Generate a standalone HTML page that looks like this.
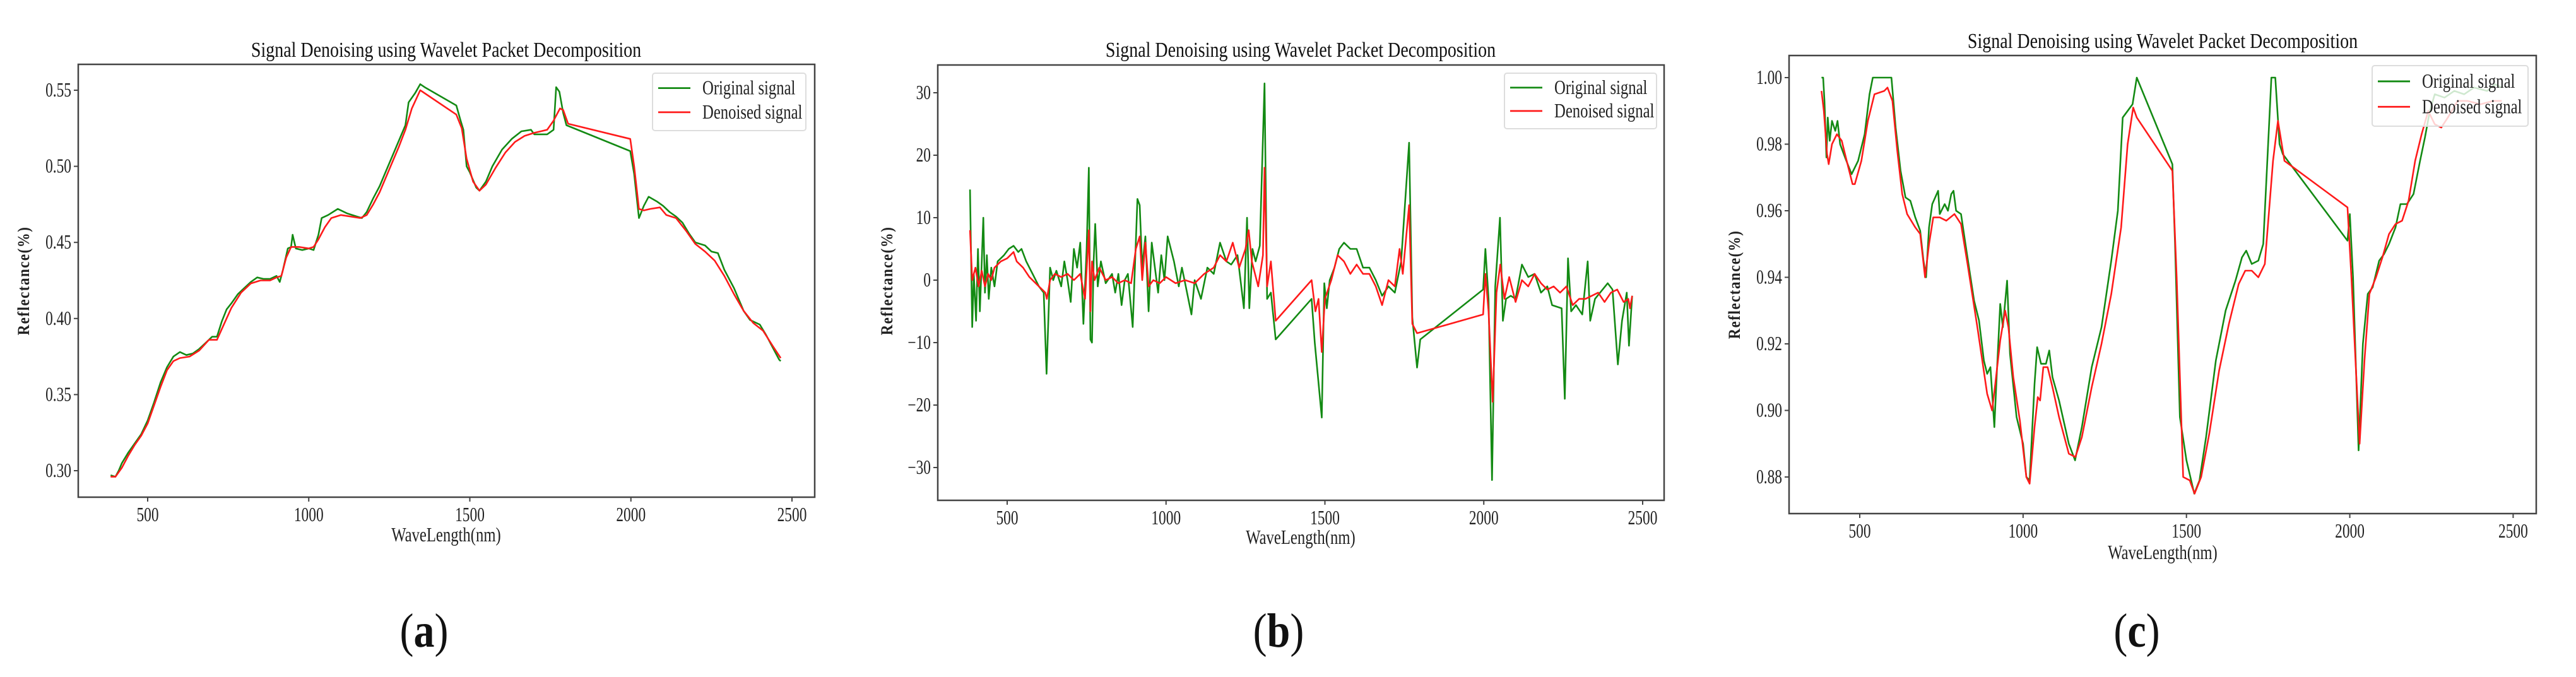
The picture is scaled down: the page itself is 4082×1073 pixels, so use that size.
<!DOCTYPE html>
<html><head><meta charset="utf-8"><style>
html,body{margin:0;padding:0;background:#fff;}
svg{display:block;font-family:"Liberation Serif",serif;}
</style></head><body>
<svg id="fig" width="4082" height="1073" viewBox="0 0 4082 1073" xmlns="http://www.w3.org/2000/svg"></svg>
<script>
// ---- Data (wavelength nm, reflectance) ----
const aOrigX=[385,400,410,420,440,460,480,500,520,540,560,580,600,620,640,660,680,700,715,730,745,760,780,800,820,840,860,880,900,910,920,935,945,950,960,980,1000,1015,1030,1040,1060,1090,1120,1150,1165,1180,1200,1220,1240,1260,1280,1300,1310,1330,1346,1360,1458,1470,1480,1490,1500,1520,1530,1550,1570,1600,1630,1660,1690,1700,1740,1760,1768,1778,1790,1800,1998,2010,2025,2040,2055,2080,2100,2120,2140,2160,2180,2200,2230,2250,2270,2290,2320,2350,2370,2400,2420,2440,2460,2465];
const aOrigY=[.297,.296,.300,.305,.312,.318,.324,.333,.345,.358,.368,.375,.378,.376,.377,.380,.384,.388,.388,.398,.406,.410,.416,.420,.424,.427,.426,.426,.428,.424,.432,.446,.447,.455,.446,.445,.446,.445,.455,.466,.468,.472,.469,.467,.466,.470,.479,.487,.497,.507,.517,.527,.542,.548,.554,.552,.540,.531,.524,.500,.496,.486,.484,.490,.500,.511,.518,.523,.524,.521,.521,.524,.552,.549,.535,.527,.510,.495,.466,.474,.480,.477,.474,.470,.467,.463,.456,.450,.448,.444,.443,.432,.420,.405,.399,.396,.389,.381,.373,.372];
const aDenX=[385,400,420,440,460,480,500,520,540,560,580,600,630,660,690,715,730,760,790,820,850,880,900,915,930,945,970,1000,1015,1030,1050,1070,1100,1130,1160,1180,1200,1220,1250,1280,1300,1320,1346,1458,1475,1490,1510,1530,1550,1580,1610,1640,1670,1700,1720,1740,1760,1780,1790,1805,1998,2010,2025,2040,2060,2090,2110,2140,2170,2200,2230,2260,2290,2320,2350,2380,2410,2440,2465];
const aDenY=[.296,.296,.302,.310,.317,.323,.331,.343,.355,.366,.372,.374,.375,.379,.386,.386,.393,.407,.417,.423,.425,.425,.427,.428,.440,.447,.447,.446,.447,.452,.460,.466,.468,.467,.466,.468,.475,.483,.498,.513,.524,.538,.550,.534,.525,.505,.490,.484,.488,.499,.509,.516,.520,.522,.523,.524,.530,.538,.537,.528,.518,.500,.472,.471,.472,.473,.468,.466,.458,.449,.444,.438,.428,.416,.405,.397,.392,.382,.374];

const bOrigX=[383,390,395,402,408,414,420,425,430,436,442,450,460,470,490,505,520,535,545,560,580,600,615,624,635,645,655,670,680,690,700,710,720,730,740,750,757,762,767,772,777,785,795,810,830,840,850,860,870,880,895,910,917,925,935,945,955,965,975,985,995,1005,1025,1040,1050,1060,1080,1090,1110,1130,1150,1170,1190,1205,1225,1245,1255,1262,1272,1282,1295,1310,1318,1330,1345,1458,1468,1490,1498,1506,1515,1530,1545,1560,1580,1600,1620,1640,1660,1680,1700,1720,1740,1765,1775,1790,1800,1998,2005,2015,2026,2036,2051,2060,2070,2085,2100,2120,2140,2160,2180,2200,2215,2245,2255,2265,2275,2290,2310,2327,2335,2350,2390,2405,2422,2435,2450,2457,2467];
const bOrigY=[14.5,-7.5,1,-6.5,5,-5,3,10,-2,4,-3,2,-1,3,4,5,5.5,4.5,5,3,1,-1,-2,-15,2,0,1.5,-1,3,0,-3.5,5,2,6,-7,5,18,-9.5,-10,3,9,-1,3,-0.5,1,-2,1,-4,0,1,-7.5,13,12,2,7,-5,6,2,-2,4,0,7,3,-1,2,-0.5,-5.5,0,-3,2,1,6,3,2.5,4,-4.5,10,-4.5,5,3,5.5,31.5,-3,-2,-9.5,-3,-10,-22,-0.5,-4.5,0,2,5,6,5,5,2,2,0,-2.5,-1,-2,3,22,-6,-14,-9.5,-1.5,5,-3,-32,-1,10,-6.5,-3,-2.5,-3,2.5,0.5,1,-2,-1,-4,-4.5,-19,3.5,-5,-4,-5.5,3,-6.5,-3,-0.5,-1.5,-13.5,-6.5,-2,-10.5,-2.5];
const bDenX=[383,390,400,410,420,430,440,450,460,480,500,520,530,550,570,600,620,625,635,650,670,690,710,730,745,757,762,767,775,790,810,830,850,870,890,905,917,925,935,945,960,980,1000,1030,1060,1090,1120,1150,1170,1190,1210,1230,1250,1260,1270,1290,1305,1310,1318,1330,1345,1458,1470,1480,1490,1500,1520,1540,1560,1580,1600,1620,1640,1660,1680,1700,1720,1735,1745,1765,1775,1790,1998,2005,2015,2028,2040,2052,2065,2080,2100,2120,2140,2160,2180,2200,2220,2240,2260,2280,2300,2320,2340,2360,2380,2400,2420,2440,2455,2460,2467];
const bDenY=[8,0,2,-1,1.5,-1,1,0,2,3,3.5,4.5,3,2,0.5,-1,-2,-3,0,1,0.5,1,0,1,-3,8,-5,3,0,2,0,0.5,-0.5,0,-0.5,5,7,0,6,-1,0,-0.5,0.5,-0.5,0,-0.5,1,2,4,3,6,2,5,8,3,-1,4,18,-1,3,-6.5,0,-5,-3,-11.5,-3,0,4,3,1,2.5,1,1,-1,-4,0,-1,5,1,12,-7,-8.5,-5.5,1,-5,-19.5,-2,2.5,-3,0.5,-3.5,0,-1,1,-0.5,-1.5,-1,-2,-1,-4,-3,-3,-2.5,-2,-3.5,-2,-1.5,-3.5,-3,-4.5,-2.5];

const cOrigX=[383,388,392,398,402,408,415,425,432,440,455,475,495,515,530,540,597,610,625,640,655,670,685,695,703,712,722,740,745,760,770,780,787,795,810,825,850,865,880,890,900,912,920,930,938,951,960,980,1000,1010,1020,1035,1043,1055,1070,1080,1090,1110,1140,1159,1180,1210,1240,1270,1290,1305,1320,1335,1348,1457,1465,1480,1500,1524,1540,1560,1590,1620,1650,1670,1683,1700,1720,1735,1760,1772,1785,1795,1993,2000,2010,2027,2040,2055,2070,2090,2105,2120,2140,2155,2175,2195,2215,2230,2245,2260,2290,2320,2350,2380,2420,2445,2465];
const cOrigY=[1.000,1.000,.993,.976,.988,.981,.987,.984,.987,.980,.976,.971,.975,.983,.995,1.000,1.000,.985,.972,.964,.963,.958,.954,.945,.940,.955,.962,.966,.959,.962,.960,.965,.966,.960,.959,.949,.933,.927,.915,.911,.913,.895,.912,.932,.925,.939,.917,.898,.890,.880,.879,.908,.919,.914,.914,.918,.910,.903,.890,.885,.895,.913,.925,.945,.960,.988,.990,.992,1.000,.974,.950,.898,.885,.875,.879,.892,.915,.930,.939,.946,.948,.944,.945,.950,1.000,1.000,.980,.977,.951,.959,.940,.888,.920,.935,.937,.945,.947,.950,.955,.962,.962,.965,.975,.982,.990,.995,.994,.996,.995,.997,.996,.998,.997];
const cDenX=[383,390,400,405,415,430,445,460,478,485,505,525,545,575,585,600,615,630,645,670,685,700,712,725,745,765,790,810,830,860,890,905,915,930,945,955,970,990,1010,1020,1035,1045,1052,1062,1075,1090,1110,1140,1160,1180,1210,1240,1270,1300,1320,1337,1348,1457,1470,1490,1510,1525,1545,1570,1600,1630,1660,1680,1700,1720,1740,1765,1780,1800,1993,2005,2030,2045,2060,2080,2100,2120,2140,2160,2180,2200,2220,2240,2260,2280,2300,2330,2360,2400,2440,2465];
const cDenY=[.996,.990,.977,.974,.980,.983,.981,.975,.968,.968,.975,.987,.995,.996,.997,.993,.978,.965,.959,.955,.953,.940,.950,.958,.958,.957,.959,.956,.944,.925,.905,.900,.908,.921,.930,.925,.910,.897,.880,.878,.895,.904,.903,.913,.913,.907,.898,.887,.886,.892,.907,.920,.935,.955,.980,.991,.988,.972,.940,.880,.879,.875,.880,.893,.912,.926,.938,.942,.942,.940,.944,.975,.987,.975,.961,.940,.890,.915,.935,.940,.946,.953,.956,.957,.963,.975,.983,.990,.986,.985,.988,.993,.993,.992,.993,.993];

const xTicks=[500,1000,1500,2000,2500];
const aYTicks=[0.30,0.35,0.40,0.45,0.50,0.55];
const bYTicks=[-30,-20,-10,0,10,20,30];
const cYTicks=[0.88,0.90,0.92,0.94,0.96,0.98,1.00];

const NS='http://www.w3.org/2000/svg';
const svg=document.getElementById('fig');
function mk(tag,attrs,parent,text){const e=document.createElementNS(NS,tag);for(const k in attrs)e.setAttribute(k,attrs[k]);if(text!==undefined)e.textContent=text;(parent||svg).appendChild(e);return e;}
function stext(x,y,sx,sy,attrs,parent,text){attrs.x=0;attrs.y=0;attrs.transform='translate('+x+','+y+') scale('+sx+','+sy+')';return mk('text',attrs,parent,text);}

function panel(p){
  const g=mk('g',{});
  
  
  const sx=v=>p.x500+(v-500)*p.pxPer1000/1000;
  const sy=v=>p.y0+(v-p.v0)*(p.y1-p.y0)/(p.v1-p.v0);
  const t=stext(p.tcx,p.ty,1.0,1.2,{'text-anchor':'middle','font-size':28,fill:'#111'},g,'Signal Denoising using Wavelet Packet Decomposition');
  
  
  const series=[[p.ox,p.oy,'#138a13','original-signal-line'],[p.dx,p.dy,'#ff1a1a','denoised-signal-line']];
  const clip='clip'+p.id;
  const cp=mk('clipPath',{id:clip},g);mk('rect',{x:p.L,y:p.T,width:p.R-p.L,height:p.B-p.T},cp);
  for(const [xs,ys,col,nm] of series){
    let d='';for(let i=0;i<xs.length;i++)d+=(i?'L':'M')+sx(xs[i]).toFixed(1)+','+sy(ys[i]).toFixed(1);
    const pl=mk('path',{d:d,fill:'none',stroke:col,'stroke-width':2.6,'stroke-linejoin':'round','clip-path':'url(#'+clip+')'},g);
    
    
  }
  const fr=mk('rect',{x:p.L,y:p.T,width:p.R-p.L,height:p.B-p.T,fill:'none',stroke:'#444','stroke-width':2.5},g);
  
  
  for(const v of xTicks){const x=sx(v);
    mk('line',{x1:x,y1:p.B,x2:x,y2:p.B+7,stroke:'#444','stroke-width':2},g);
    const tl=stext(x,p.B+38,0.9,1.2,{'text-anchor':'middle','font-size':26,fill:'#222'},g,String(v));
    
    
  }
  for(const v of p.yTicks){const y=sy(v);
    mk('line',{x1:p.L-7,y1:y,x2:p.L,y2:y,stroke:'#444','stroke-width':2},g);
    const tl=stext(p.L-11,y+10,0.9,1.2,{'text-anchor':'end','font-size':26,fill:'#222'},g,p.fmt(v));
    
    
  }
  const xl=stext(p.tcx,p.xly,0.95,1.2,{'text-anchor':'middle','font-size':26,fill:'#222'},g,'WaveLength(nm)');
  
  
  const yl=mk('text',{x:0,y:0,'text-anchor':'middle','font-size':23,'font-weight':'bold','letter-spacing':1.5,fill:'#222',transform:'translate('+p.ylx+','+p.yly+') rotate(-90) scale(1,1.15)'},g,'Reflectance(%)');
  
  
  const lg=mk('g',{},g);
  
  
  mk('rect',{x:p.lgx,y:p.lgy,width:p.lgw,height:p.lgh,rx:4,fill:'rgba(255,255,255,0.8)',stroke:'#ddd','stroke-width':2},lg);
  const ents=[['Original signal','#138a13'],['Denoised signal','#ff1a1a']];
  ents.forEach((e,i)=>{const y=p.lgy+p.lgh*(i===0?0.26:0.68);
    const ln=mk('line',{x1:p.lgx+9,y1:y,x2:p.lgx+60,y2:y,stroke:e[1],'stroke-width':2.8},lg);
    
    
    const lt=stext(p.lgx+79,y+10,0.95,1.2,{'font-size':26,fill:'#222'},lg,e[0]);
    
    
  });
  const cap=stext(p.capx,1025,1,1.15,{'text-anchor':'middle','font-size':66,fill:'#111'},null);
  
  
  mk('tspan',{},cap,'(');mk('tspan',{'font-weight':'bold'},cap,p.id);mk('tspan',{},cap,')');
}

panel({id:'a',L:124,R:1291,T:102,B:788,x500:234,pxPer1000:510.5,v0:0.55,y0:143,v1:0.30,y1:746,yTicks:aYTicks,fmt:v=>v.toFixed(2),
  ox:aOrigX,oy:aOrigY,dx:aDenX,dy:aDenY,tcx:707,ty:90,xly:858,ylx:46,yly:445,lgx:1034,lgy:116,lgw:243,lgh:91,capx:672});
panel({id:'b',L:1486,R:2637,T:103,B:793,x500:1596,pxPer1000:503.5,v0:30,y0:147,v1:-30,y1:741,yTicks:bYTicks,fmt:v=>v<0?'\u2212'+(-v):String(v),
  ox:bOrigX,oy:bOrigY,dx:bDenX,dy:bDenY,tcx:2061,ty:90,xly:862,ylx:1414,yly:445,lgx:2384,lgy:116,lgw:241,lgh:88,capx:2026});
panel({id:'c',L:2835,R:4019,T:88,B:814,x500:2947,pxPer1000:517.7,v0:1.00,y0:123,v1:0.88,y1:756,yTicks:cYTicks,fmt:v=>v.toFixed(2),
  ox:cOrigX,oy:cOrigY,dx:cDenX,dy:cDenY,tcx:3427,ty:76,xly:886,ylx:2757,yly:451,lgx:3759,lgy:104,lgw:247,lgh:96,capx:3386});
</script>
</body></html>
